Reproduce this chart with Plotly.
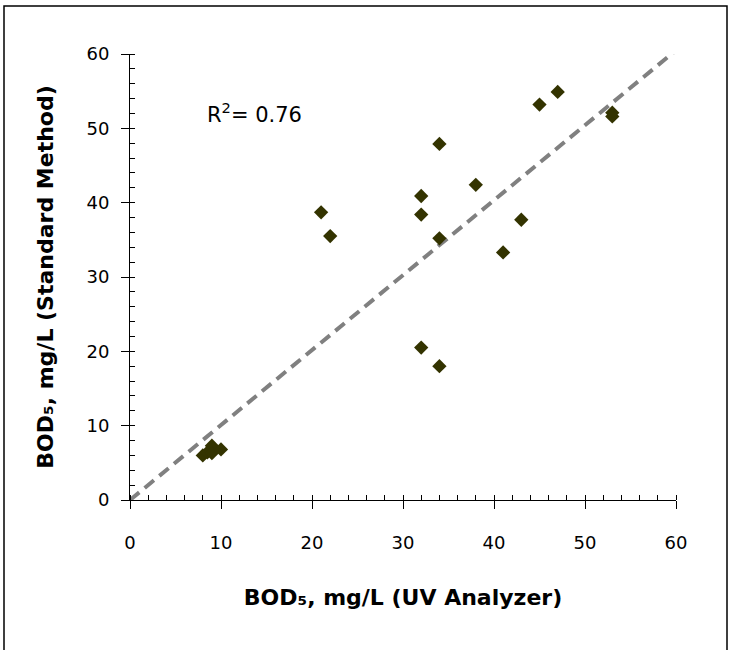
import plotly.graph_objects as go

# Data (BOD5, mg/L)
uv_analyzer = [8, 8.5, 9, 9, 10, 21, 22, 32, 32, 32, 34, 34, 34, 38, 41, 43, 45, 47, 53, 53]
standard_method = [6.0, 6.4, 7.3, 6.3, 6.8, 38.7, 35.5, 40.9, 38.4, 20.5, 47.9, 35.2, 18.0, 42.4, 33.3, 37.7, 53.2, 54.9, 52.1, 51.6]
trend_x = [0, 60]
trend_y = [0, 60.5]
r2_text = "R<sup>2</sup>= 0.76"
x_title = "BOD₅, mg/L (UV Analyzer)"
y_title = "BOD₅, mg/L (Standard Method)"
tick_vals = [0, 10, 20, 30, 40, 50, 60]

FONT = "DejaVu Sans"

fig = go.Figure()
fig.add_trace(go.Scatter(x=trend_x, y=trend_y, mode="lines",
                         line=dict(color="#808080", width=4, dash="12px,7px"),
                         hoverinfo="skip", showlegend=False))
fig.add_trace(go.Scatter(x=uv_analyzer, y=standard_method, mode="markers",
                         marker=dict(symbol="diamond", size=11, color="#333300",
                                     line=dict(width=0)),
                         showlegend=False, cliponaxis=False))
# invisible trace on overlay axes (for the inner half of the crossing major ticks)
fig.add_trace(go.Scatter(x=[0], y=[0], xaxis="x2", yaxis="y2", mode="markers",
                         marker=dict(opacity=0), hoverinfo="skip", showlegend=False))

axis_common = dict(range=[0, 60], tickvals=tick_vals, showgrid=False, zeroline=False,
                   showline=True, linecolor="black", linewidth=1,
                   ticks="outside", ticklen=8, tickcolor="black", tickwidth=1,
                   tickfont=dict(family=FONT, size=18, color="black"),
                   minor=dict(dtick=2, ticks="inside", ticklen=5, tickcolor="black", tickwidth=1))

fig.update_layout(
    width=732, height=650,
    margin=dict(l=130, r=56, t=54, b=150),
    paper_bgcolor="white", plot_bgcolor="white",
    xaxis=dict(**axis_common, ticklabelstandoff=18,
               title=dict(text=x_title, font=dict(family=FONT, size=22, color="black", weight="bold"),
                          standoff=38)),
    yaxis=dict(**axis_common, ticklabelstandoff=8,
               title=dict(text=y_title, font=dict(family=FONT, size=22, color="black", weight="bold"),
                          standoff=26)),
    xaxis2=dict(range=[0, 60], overlaying="x", matches="x", tickvals=tick_vals, ticks="inside",
                ticklen=5, tickcolor="black", showticklabels=False, showgrid=False,
                zeroline=False, showline=False, title=dict(text="")),
    yaxis2=dict(range=[0, 60], overlaying="y", matches="y", tickvals=tick_vals, ticks="inside",
                ticklen=5, tickcolor="black", showticklabels=False, showgrid=False,
                zeroline=False, showline=False, title=dict(text="")),
    annotations=[dict(x=8.2, y=52, xref="x", yref="y", text=r2_text, showarrow=False,
                      xanchor="left", yanchor="middle",
                      font=dict(family=FONT, size=21, color="black"))],
    shapes=[dict(type="rect", xref="paper", yref="paper",
                 x0=(4 - 130) / 546, x1=(727 - 130) / 546,
                 y0=(500 - 662) / 446, y1=(500 - 6) / 446,
                 line=dict(color="black", width=1.5), fillcolor="rgba(0,0,0,0)", layer="below")],
)

fig.write_html("out.html")
